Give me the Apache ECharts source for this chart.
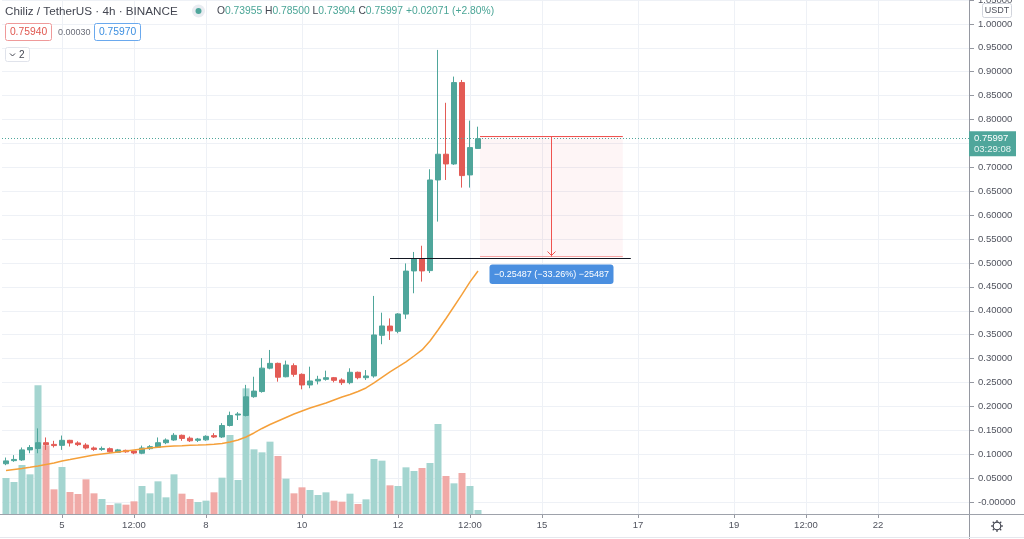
<!DOCTYPE html>
<html><head><meta charset="utf-8">
<script src="https://cdn.jsdelivr.net/npm/echarts@6/dist/echarts.min.js"></script>
<style>html,body{margin:0;padding:0;background:#fff}#c{width:1024px;height:539px}</style>
</head><body><div id="c"></div>
<script>
// ---- data (CHZ/USDT, 4h candles) ----
const open = [0.080,0.0865,0.088,0.109,0.112,0.124,0.1205,0.1185,0.129,0.1235,
 0.119,0.113,0.110,0.1115,0.104,0.108,0.1067,0.102,0.1116,0.1144,
 0.124,0.1297,0.1395,0.1335,0.129,0.130,0.1388,0.136,0.160,0.182,
 0.181,0.2203,0.231,0.280,0.290,0.262,0.2852,0.267,0.2448,0.2531,
 0.2566,0.260,0.2552,0.2496,0.2713,0.260,0.2636,0.3487,0.368,0.357,
 0.393,0.4833,0.5084,0.484,0.6736,0.7274,0.7071,0.8773,0.6841,0.73955];
const high = [0.093,0.098,0.114,0.119,0.154,0.135,0.128,0.139,0.130,0.127,
 0.123,0.116,0.116,0.114,0.111,0.1095,0.1074,0.118,0.119,0.135,
 0.133,0.144,0.141,0.137,0.134,0.1395,0.144,0.165,0.189,0.188,
 0.245,0.262,0.301,0.318,0.2915,0.2957,0.290,0.269,0.283,0.264,
 0.2747,0.2615,0.2587,0.2797,0.2727,0.276,0.431,0.396,0.384,0.395,
 0.499,0.523,0.536,0.696,0.9456,0.835,0.8898,0.8828,0.7977,0.785];
const low = [0.077,0.084,0.086,0.102,0.102,0.109,0.114,0.109,0.116,0.117,
 0.110,0.107,0.107,0.103,0.103,0.103,0.100,0.100,0.109,0.113,
 0.121,0.128,0.128,0.1255,0.1255,0.128,0.134,0.134,0.158,0.1715,
 0.179,0.218,0.2287,0.2776,0.2517,0.2608,0.262,0.2357,0.238,0.246,
 0.2538,0.2503,0.2448,0.2462,0.2566,0.2552,0.260,0.330,0.339,0.3529,
 0.383,0.4366,0.461,0.479,0.5865,0.6736,0.705,0.6576,0.6576,0.73904];
const close = [0.086,0.089,0.109,0.114,0.124,0.120,0.118,0.129,0.1235,0.120,
 0.113,0.110,0.112,0.105,0.109,0.105,0.1025,0.113,0.1158,0.124,
 0.1297,0.1395,0.133,0.128,0.1318,0.1374,0.136,0.160,0.181,0.184,
 0.220,0.232,0.280,0.290,0.261,0.2866,0.267,0.2448,0.2531,0.2566,
 0.260,0.2545,0.2496,0.2713,0.260,0.2636,0.3494,0.3682,0.358,0.3933,
 0.483,0.5084,0.4833,0.6736,0.7274,0.7071,0.8773,0.6827,0.7413,0.75997];
const volume = [108,96,147,119,386,206,74,141,66,60,
 104,62,45,27,32,28,38,84,62,98,
 50,119,61,45,36,40,65,109,237,102,
 377,194,185,217,174,106,62,80,72,57,
 65,40,37,61,30,44,165,160,86,84,
 140,129,138,153,270,114,92,123,84,12];
const ma = [0.0659,0.0680,0.0701,0.0726,0.0753,0.0785,0.0816,0.0858,0.0889,0.0921,
 0.0952,0.0983,0.1004,0.1025,0.1046,0.1067,0.1088,0.1109,0.1130,0.1144,
 0.1161,0.1172,0.1178,0.1186,0.1192,0.1199,0.1207,0.1224,0.1255,0.1297,
 0.1360,0.1444,0.1538,0.1621,0.1695,0.1768,0.1841,0.1904,0.1967,0.2019,
 0.2071,0.2134,0.2197,0.2249,0.2312,0.2385,0.2490,0.2605,0.2720,0.2824,
 0.2929,0.3054,0.3180,0.3368,0.3598,0.3839,0.4090,0.4341,0.4603,0.4833];
const tickLabels = {'5 00:00':'5','6 12:00':'12:00','8 00:00':'8','10 00:00':'10','12 00:00':'12',
 '13 12:00':'12:00','15 00:00':'15','17 00:00':'17','19 00:00':'19','20 12:00':'12:00','22 00:00':'22'};
const lastPrice = 0.75997;
const measureTop = 0.76630, measureBottom = 0.51143;
const measureStartIdx = 59.25, measureEndIdx = 77.1, measureArrowIdx = 68.1;
const hLinePrice = 0.5106, hLineFrom = 48, hLineTo = 78.1;
const priceTicks = {min: 0, max: 1.05, step: 0.05};
const volMax = 1542;

// category slots (4h), first slot = 3rd 20:00
const categories = [];
for (let i = 0; i < 121; i++) {
  const h = 20 + 4 * i;
  const d = 3 + Math.floor(h / 24);
  const hh = h % 24;
  categories.push(d + ' ' + (hh < 10 ? '0' : '') + hh + ':00');
}

const UP = '#4fa69b', DOWN = '#e35b55';
const VUP = '#a4d5d0', VDOWN = '#f0aaa7';
const FONT = 'Liberation Sans, Arial, sans-serif';
const TXT = '#50535e';
const GRIDC = '#eef1f6';

const chart = echarts.init(document.getElementById('c'), null, {renderer: 'canvas'});
const candleData = open.map((o, i) => [o, close[i], low[i], high[i]]);
const volData = volume.map((v, i) => ({value: v, itemStyle: {color: close[i] >= open[i] ? VUP : VDOWN}}));
const isTick = (idx, val) => tickLabels[val] !== undefined;

chart.setOption({
  animation: false,
  backgroundColor: '#ffffff',
  grid: [
    {left: 2, right: 54, top: 0, bottom: 37, outerBoundsMode: 'none', containLabel: false},
    {left: 2, right: 54, top: 0, bottom: 25, outerBoundsMode: 'none', containLabel: false}
  ],
  xAxis: [
    {type: 'category', gridIndex: 0, data: categories, boundaryGap: true,
     axisLine: {show: false}, axisTick: {show: false}, axisLabel: {show: false}, splitLine: {show: false}},
    {type: 'category', gridIndex: 1, data: categories, boundaryGap: true,
     axisLine: {show: false},
     axisTick: {show: true, alignWithLabel: true, interval: isTick, length: 4, lineStyle: {color: '#9598a1'}},
     axisLabel: {interval: isTick, formatter: v => tickLabels[v] || '', color: TXT, fontSize: 9.5, fontFamily: FONT, margin: 6},
     splitLine: {show: false}}
  ],
  yAxis: [
    {type: 'value', gridIndex: 0, position: 'right', min: priceTicks.min, max: priceTicks.max, interval: priceTicks.step,
     axisLine: {show: false},
     axisTick: {show: true, length: 4, lineStyle: {color: '#9598a1'}},
     axisLabel: {color: TXT, fontSize: 9.5, fontFamily: FONT, margin: 8,
       formatter: v => (Math.abs(v) < 1e-9 ? '-0.00000' : v.toFixed(5))},
     splitLine: {show: true, lineStyle: {color: GRIDC, width: 1}}},
    {type: 'value', gridIndex: 1, min: 0, max: volMax, show: false, splitLine: {show: false}}
  ],
  series: [
    {type: 'bar', name: 'Volume', xAxisIndex: 1, yAxisIndex: 1, data: volData, barWidth: 7, z: 2,
     markLine: {silent: true, symbol: ['none', 'none'], z: 1, label: {show: false},
       lineStyle: {color: GRIDC, type: 'solid', width: 1},
       data: Object.keys(tickLabels).map(c => ({xAxis: c}))}},
    {type: 'candlestick', name: 'CHZUSDT', xAxisIndex: 0, yAxisIndex: 0, data: candleData, barWidth: 6, z: 3,
     itemStyle: {color: UP, color0: DOWN, borderColor: UP, borderColor0: DOWN, borderWidth: 1},
     markLine: {silent: true, symbol: ['none', 'none'], label: {show: false},
       lineStyle: {color: '#4fa69b', type: [1, 2], width: 1},
       data: [{yAxis: lastPrice}]}},
    {type: 'line', name: 'MA', xAxisIndex: 0, yAxisIndex: 0, data: ma, symbol: 'none', z: 4,
     lineStyle: {color: '#f5a03a', width: 1.5}}
  ]
});

// ---- overlays positioned through the chart's own scales ----
const p0 = chart.convertToPixel({gridIndex: 0}, [0, 0]);
const p1 = chart.convertToPixel({gridIndex: 0}, [1, 0]);
const step = p1[0] - p0[0];
const xAt = i => p0[0] + step * i;
const yAt = v => chart.convertToPixel({gridIndex: 0}, [0, v])[1];

const mx1 = xAt(measureStartIdx), mx2 = xAt(measureEndIdx), ax = Math.round(xAt(measureArrowIdx)) + 0.5;
const myT = Math.round(yAt(measureTop)) + 0.5, myB = Math.round(yAt(measureBottom)) + 0.5;
const hy = Math.round(yAt(hLinePrice)) + 0.5;
const py = yAt(lastPrice);
const axisX = 969.5;
const RED = '#ef5350';

const g = [];
// axis separators
g.push({type: 'line', shape: {x1: axisX, y1: 0, x2: axisX, y2: 539}, style: {stroke: '#9598a1', lineWidth: 1}, z: 50});
g.push({type: 'line', shape: {x1: 0, y1: 514.5, x2: 1024, y2: 514.5}, style: {stroke: '#9ea2ab', lineWidth: 1}, z: 50});
g.push({type: 'line', shape: {x1: 0, y1: 537.5, x2: 1024, y2: 537.5}, style: {stroke: '#e6e8ee', lineWidth: 1}, z: 50});
// measure tool
g.push({type: 'rect', shape: {x: mx1, y: myT, width: mx2 - mx1, height: myB - myT}, style: {fill: 'rgba(242,54,69,0.05)'}, z: 20});
g.push({type: 'line', shape: {x1: mx1, y1: myT, x2: mx2, y2: myT}, style: {stroke: RED, lineWidth: 1}, z: 21});
g.push({type: 'line', shape: {x1: mx1, y1: myB - 1, x2: mx2, y2: myB - 1}, style: {stroke: '#f5a3a3', lineWidth: 1}, z: 21});
g.push({type: 'line', shape: {x1: ax, y1: myT, x2: ax, y2: myB - 1}, style: {stroke: RED, lineWidth: 1}, z: 21});
g.push({type: 'polyline', shape: {points: [[ax - 4, myB - 6], [ax, myB - 2], [ax + 4, myB - 6]]}, style: {stroke: RED, lineWidth: 1, fill: null}, z: 21});
// horizontal black line
g.push({type: 'line', shape: {x1: xAt(hLineFrom), y1: hy, x2: xAt(hLineTo), y2: hy}, style: {stroke: '#131722', lineWidth: 1}, z: 22});
// measure label
g.push({type: 'rect', shape: {x: ax - 62, y: myB + 7, width: 124, height: 19.5, r: 3}, style: {fill: '#4a8fe0'}, z: 23});
g.push({type: 'text', x: ax, y: myB + 17, style: {text: '\u22120.25487 (\u221233.26%) \u221225487', fill: '#ffffff', font: '9px ' + FONT, align: 'center', verticalAlign: 'middle'}, z: 24});
// last price box
g.push({type: 'rect', shape: {x: 969, y: py - 7.5, width: 47, height: 25}, style: {fill: UP}, z: 60});
g.push({type: 'text', x: 974, y: py, style: {text: '0.75997', fill: '#fff', font: '9.5px ' + FONT, verticalAlign: 'middle'}, z: 61});
g.push({type: 'text', x: 974, y: py + 11, style: {text: '03:29:08', fill: '#e8f5f3', font: '9.5px ' + FONT, verticalAlign: 'middle'}, z: 61});
// USDT box
g.push({type: 'rect', shape: {x: 982.5, y: 3.5, width: 29, height: 14, r: 2}, style: {fill: '#fff', stroke: '#d1d4dc', lineWidth: 1}, z: 60});
g.push({type: 'text', x: 997, y: 10.5, style: {text: 'USDT', fill: TXT, font: '9px ' + FONT, align: 'center', verticalAlign: 'middle'}, z: 61});
// gear icon
g.push({type: 'circle', shape: {cx: 997, cy: 526, r: 3.8}, style: {fill: '#fff', stroke: '#434651', lineWidth: 1.2}, z: 60});
for (let k = 0; k < 8; k++) {
  const a = k * Math.PI / 4, c = Math.cos(a), s = Math.sin(a);
  g.push({type: 'line', shape: {x1: 997 + 3.8 * c, y1: 526 + 3.8 * s, x2: 997 + 6 * c, y2: 526 + 6 * s}, style: {stroke: '#434651', lineWidth: 1.2}, z: 60});
}
// header
g.push({type: 'text', x: 5, y: 11.5, style: {text: 'Chiliz / TetherUS \u00b7 4h \u00b7 BINANCE', fill: '#434651', font: '11.7px ' + FONT, verticalAlign: 'middle'}, z: 70});
g.push({type: 'circle', shape: {cx: 198.5, cy: 11, r: 6.5}, style: {fill: '#e9ecf1'}, z: 70});
g.push({type: 'circle', shape: {cx: 198.5, cy: 11, r: 3}, style: {fill: UP}, z: 71});
g.push({type: 'text', x: 217, y: 11.5, style: {
  text: '{l|O}{v|0.73955} {l|H}{v|0.78500} {l|L}{v|0.73904} {l|C}{v|0.75997} {v|+0.02071 (+2.80%)}',
  verticalAlign: 'middle', font: '10.3px ' + FONT,
  rich: {l: {fill: '#434651', font: '10.3px ' + FONT}, v: {fill: '#4aa596', font: '10.3px ' + FONT}}}, z: 70});
g.push({type: 'rect', shape: {x: 5.5, y: 23.5, width: 46, height: 17, r: 2}, style: {fill: '#fff', stroke: '#ef9a9a', lineWidth: 1}, z: 70});
g.push({type: 'text', x: 28.5, y: 32.5, style: {text: '0.75940', fill: '#e0574f', font: '10.3px ' + FONT, align: 'center', verticalAlign: 'middle'}, z: 71});
g.push({type: 'text', x: 58, y: 32.5, style: {text: '0.00030', fill: '#6a6d78', font: '9px ' + FONT, verticalAlign: 'middle'}, z: 71});
g.push({type: 'rect', shape: {x: 94.5, y: 23.5, width: 46, height: 17, r: 2}, style: {fill: '#fff', stroke: '#6aa9ee', lineWidth: 1}, z: 70});
g.push({type: 'text', x: 117.5, y: 32.5, style: {text: '0.75970', fill: '#3d8fe0', font: '10.3px ' + FONT, align: 'center', verticalAlign: 'middle'}, z: 71});
g.push({type: 'rect', shape: {x: 5.5, y: 47.5, width: 24, height: 14, r: 2}, style: {fill: '#fff', stroke: '#e0e3eb', lineWidth: 1}, z: 70});
g.push({type: 'polyline', shape: {points: [[10, 53.5], [12.5, 56], [15, 53.5]]}, style: {stroke: '#434651', lineWidth: 1, fill: null}, z: 71});
g.push({type: 'text', x: 19, y: 55, style: {text: '2', fill: '#434651', font: '10px ' + FONT, verticalAlign: 'middle'}, z: 71});

chart.setOption({graphic: g});
</script>
</body></html>
